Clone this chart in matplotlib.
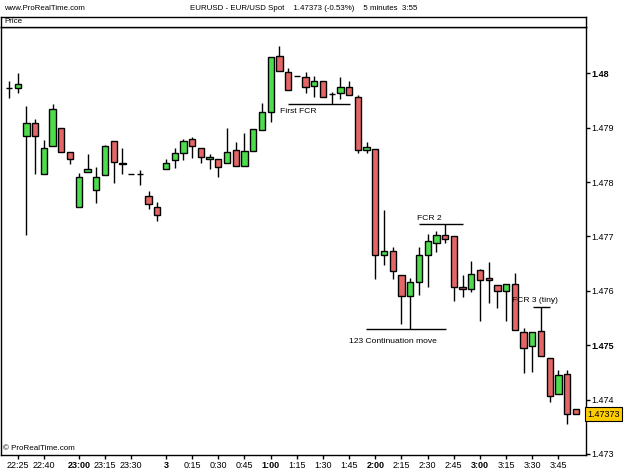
import matplotlib
matplotlib.use('Agg')
import matplotlib.pyplot as plt

plt.rcParams['font.family'] = ['Liberation Sans', 'DejaVu Sans']

# 5 minute bars, EUR/USD (0:00 bar is labelled with the date "3")
bar_times = ['22:20', '22:25', '22:30', '22:35', '22:40', '22:45', '22:50', '22:55',
             '23:00', '23:05', '23:10', '23:15', '23:20', '23:25', '23:30', '23:35',
             '23:40', '23:45', '0:00', '0:05', '0:10', '0:15', '0:20', '0:25',
             '0:30', '0:35', '0:40', '0:45', '0:50', '0:55', '1:00', '1:05',
             '1:10', '1:15', '1:20', '1:25', '1:30', '1:35', '1:40', '1:45',
             '1:50', '1:55', '2:00', '2:05', '2:10', '2:15', '2:20', '2:25',
             '2:30', '2:35', '2:40', '2:45', '2:50', '2:55', '3:00', '3:05',
             '3:10', '3:15', '3:20', '3:25', '3:30', '3:35', '3:40', '3:45',
             '3:50', '3:55']

opens = [1.47972, 1.47972, 1.47884, 1.47908, 1.47814, 1.47866, 1.47899, 1.47855,
         1.47754, 1.47818, 1.47785, 1.47813, 1.47875, 1.47835, 1.47815, 1.47814,
         1.47775, 1.47754, 1.47824, 1.47840, 1.47853, 1.47879, 1.47863, 1.47843,
         1.47842, 1.47835, 1.47859, 1.47830, 1.47857, 1.47895, 1.47928, 1.48031,
         1.48002, 1.47995, 1.47994, 1.47977, 1.47985, 1.47961, 1.47964, 1.47974,
         1.47957, 1.47858, 1.47861, 1.47665, 1.47673, 1.47629, 1.47590, 1.47616,
         1.47665, 1.47688, 1.47702, 1.47700, 1.47607, 1.47603, 1.47638, 1.47624,
         1.47611, 1.47599, 1.47613, 1.47525, 1.47499, 1.47526, 1.47477, 1.47410,
         1.47447, 1.47383]
highs = [1.47986, 1.48001, 1.47940, 1.47915, 1.47877, 1.47944, 1.47900, 1.47855,
         1.47817, 1.47851, 1.47828, 1.47869, 1.47875, 1.47863, 1.47815, 1.47822,
         1.47784, 1.47763, 1.47843, 1.47863, 1.47880, 1.47882, 1.47863, 1.47851,
         1.47842, 1.47899, 1.47873, 1.47891, 1.47898, 1.47946, 1.48030, 1.48051,
         1.48009, 1.47995, 1.48003, 1.47995, 1.47985, 1.47966, 1.47993, 1.47986,
         1.47960, 1.47873, 1.47861, 1.47749, 1.47681, 1.47629, 1.47623, 1.47681,
         1.47705, 1.47710, 1.47723, 1.47700, 1.47629, 1.47654, 1.47640, 1.47653,
         1.47611, 1.47613, 1.47633, 1.47531, 1.47524, 1.47570, 1.47477, 1.47455,
         1.47455, 1.47383]
lows = [1.47955, 1.47963, 1.47703, 1.47814, 1.47814, 1.47866, 1.47856, 1.47833,
        1.47754, 1.47818, 1.47762, 1.47813, 1.47798, 1.47814, 1.47815, 1.47794,
        1.47751, 1.47729, 1.47824, 1.47826, 1.47840, 1.47844, 1.47835, 1.47824,
        1.47809, 1.47835, 1.47830, 1.47830, 1.47857, 1.47895, 1.47910, 1.48004,
        1.47970, 1.47995, 1.47963, 1.47957, 1.47957, 1.47943, 1.47953, 1.47960,
        1.47854, 1.47854, 1.47622, 1.47648, 1.47622, 1.47539, 1.47529, 1.47592,
        1.47607, 1.47671, 1.47688, 1.47581, 1.47588, 1.47597, 1.47544, 1.47578,
        1.47569, 1.47545, 1.47528, 1.47449, 1.47451, 1.47480, 1.47395, 1.47410,
        1.47355, 1.47373]
closes = [1.47972, 1.47980, 1.47908, 1.47884, 1.47863, 1.47934, 1.47856, 1.47842,
          1.47809, 1.47824, 1.47809, 1.47866, 1.47837, 1.47834, 1.47815, 1.47814,
          1.47759, 1.47739, 1.47835, 1.47853, 1.47876, 1.47866, 1.47846, 1.47846,
          1.47827, 1.47856, 1.47830, 1.47857, 1.47898, 1.47929, 1.48030, 1.48004,
          1.47970, 1.47995, 1.47975, 1.47985, 1.47957, 1.47961, 1.47974, 1.47960,
          1.47859, 1.47864, 1.47665, 1.47673, 1.47636, 1.47590, 1.47616, 1.47665,
          1.47691, 1.47702, 1.47696, 1.47607, 1.47603, 1.47631, 1.47620, 1.47619,
          1.47599, 1.47613, 1.47528, 1.47494, 1.47524, 1.47480, 1.47406, 1.47445,
          1.47373, 1.47373]

tick_times = ['22:25', '22:40', '23:00', '23:15', '23:30', '0:00', '0:15', '0:30',
              '0:45', '1:00', '1:15', '1:30', '1:45', '2:00', '2:15', '2:30',
              '2:45', '3:00', '3:15', '3:30', '3:45']
tick_labels = ['22:25', '22:40', '23:00', '23:15', '23:30', '3', '0:15', '0:30',
               '0:45', '1:00', '1:15', '1:30', '1:45', '2:00', '2:15', '2:30',
               '2:45', '3:00', '3:15', '3:30', '3:45']
bold_x = ['23:00', '3', '1:00', '2:00', '3:00']

y_ticks = [1.473, 1.474, 1.475, 1.476, 1.477, 1.478, 1.479, 1.48]
y_labels = ['1.473', '1.474', '1.475', '1.476', '1.477', '1.478', '1.479', '1.48']
bold_y = ['1.475', '1.48']

last_price = 1.47373

# annotations: text, text x (bar index), text price, line from / to (bar index), line price
notes = [
    ('First FCR', 31.1, 1.47929, 32.0, 39.1, 1.47943),
    ('FCR 2', 46.75, 1.47732, 47.0, 52.1, 1.47723),
    ('123 Continuation move', 39.0, 1.47507, 40.9, 50.1, 1.47529),
    ('FCR 3 (tiny)', 57.65, 1.47582, 60.05, 62.05, 1.47570),
]

W, H = 625, 472
fig = plt.figure(figsize=(W / 100, H / 100), dpi=100)
fig.patch.set_facecolor('white')

left, right, top, bottom = 1, 585.5, 26.5, 455
ax = fig.add_axes([left / W, 1 - bottom / H, (right - left) / W, (bottom - top) / H])

x = list(range(len(opens)))
green, red = '#4cdc4c', '#e46666'
for i in x:
    o, h, l, c = opens[i], highs[i], lows[i], closes[i]
    ax.vlines(i, l, h, color='black', lw=1, zorder=1)
    col = green if c >= o else red
    ax.bar(i, c - o, bottom=o, width=0.72, color=col, edgecolor='black',
           linewidth=1, zorder=2)

for txt, tx, ty, xs, xe, ly in notes:
    ax.hlines(ly, xs, xe, color='black', lw=1, zorder=3)
    ax.text(tx, ty, txt, fontsize=6.1, va='center', ha='left')

ax.set_xlim(-0.92, 66.1)
ax.set_ylim(1.47298, 1.48086)

ax.yaxis.tick_right()
ax.set_yticks(y_ticks)
ax.set_yticklabels(y_labels)
for lab in ax.get_yticklabels():
    if lab.get_text() in bold_y:
        lab.set_fontweight('bold')
        lab.set_fontsize(7.5)
ax.tick_params(axis='y', direction='out', length=3, width=1, labelsize=6.5, pad=1)

ax.set_xticks([bar_times.index(t) for t in tick_times])
ax.set_xticklabels(tick_labels)
for lab in ax.get_xticklabels():
    if lab.get_text() in bold_x:
        lab.set_fontweight('bold')
        lab.set_fontsize(7.5)
ax.tick_params(axis='x', direction='out', length=3, width=1, labelsize=6.5, pad=1.5)

for s in ax.spines.values():
    s.set_linewidth(1)
    s.set_color('black')

ax.text(0.003, 0.006, '\u00a9 ProRealTime.com', transform=ax.transAxes,
        fontsize=5.8, va='bottom', ha='left')

# current price marker on the right axis
ax.text(1.003, last_price, '1.47373', transform=ax.get_yaxis_transform(),
        fontsize=6.5, va='center', ha='left',
        bbox=dict(boxstyle='square,pad=0.3', fc='#ffcc00', ec='black', lw=0.8))

# "Price" header strip
hx = fig.add_axes([left / W, 1 - top / H, (right - left) / W, 9.5 / H])
hx.set_xticks([])
hx.set_yticks([])
for s in hx.spines.values():
    s.set_linewidth(1)
hx.text(0.005, 0.5, 'Price', fontsize=5.8, va='center', ha='left')

fig.text(4 / W, 1 - 8 / H, 'www.ProRealTime.com', fontsize=5.6, va='center', ha='left')
fig.text(304 / W, 1 - 8 / H,
         'EURUSD - EUR/USD Spot    1.47373 (-0.53%)    5 minutes  3:55',
         fontsize=5.7, va='center', ha='center')

fig.savefig('out.png', dpi=100)
